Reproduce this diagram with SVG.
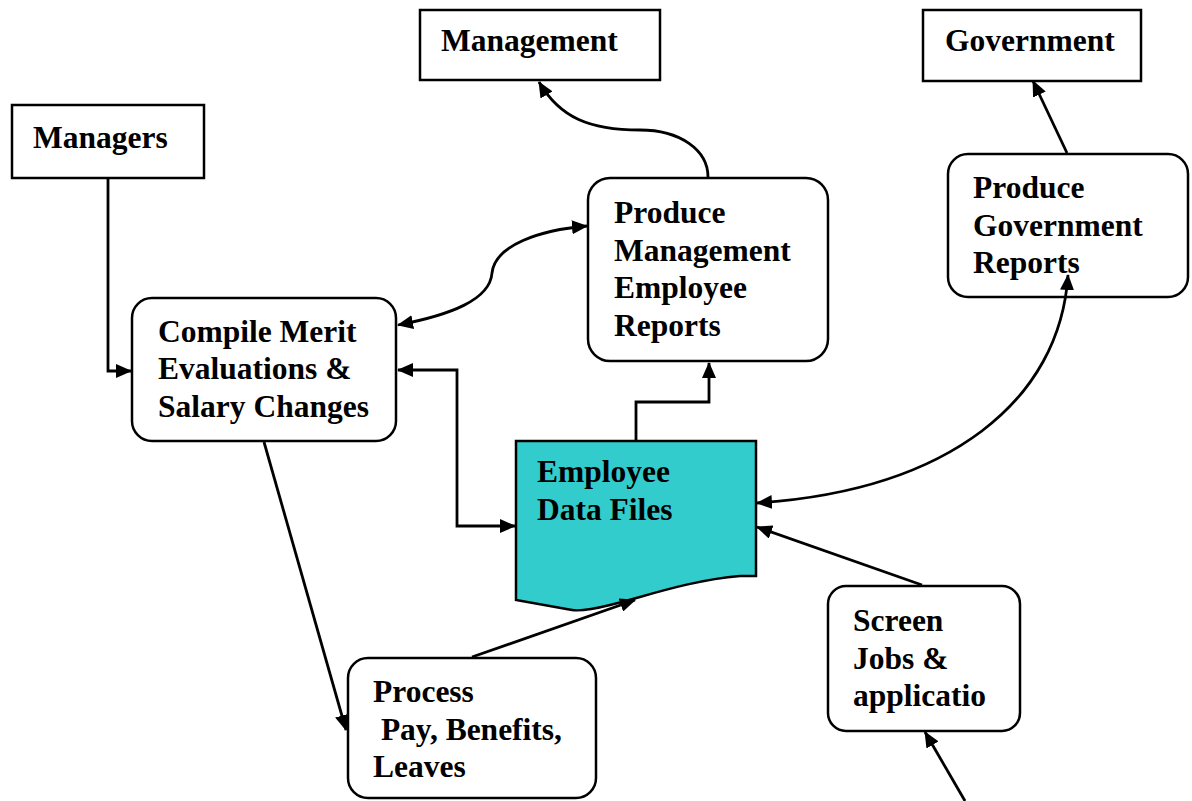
<svg xmlns="http://www.w3.org/2000/svg" width="1192" height="801" viewBox="0 0 1192 801">
<defs>
<style>
.box{fill:#fff;stroke:#000;stroke-width:2.5}
.doc{fill:#33cccc;stroke:#000;stroke-width:2.5}
.t{font-family:"Liberation Serif","Times New Roman",serif;font-weight:bold;font-size:31.5px;fill:#000}
.c{fill:none;stroke:#000;stroke-width:2.8}
</style>
<marker id="a" viewBox="0 0 16 14" refX="15" refY="7" markerWidth="16" markerHeight="14" markerUnits="userSpaceOnUse" orient="auto-start-reverse">
<path d="M0,0 L16,7 L0,14 Z" fill="#000"/>
</marker>
</defs>
<rect width="1192" height="801" fill="#fff"/>
<g id="managers">
<rect class="box" x="12" y="105" width="192" height="73"/>
<text class="t" x="33" y="148">Managers</text>
</g>
<g id="management">
<rect class="box" x="420" y="10" width="240" height="70"/>
<text class="t" x="441" y="51">Management</text>
</g>
<g id="government">
<rect class="box" x="923" y="10" width="218" height="71"/>
<text class="t" x="945" y="51">Government</text>
</g>
<g id="compile">
<rect class="box" x="132" y="298" width="264" height="143" rx="20"/>
<text class="t" x="158" y="342">Compile Merit</text>
<text class="t" x="158" y="379">Evaluations &amp;</text>
<text class="t" x="158" y="417">Salary Changes</text>
</g>
<g id="produce-management">
<rect class="box" x="588" y="178" width="240" height="183" rx="22"/>
<text class="t" x="614" y="223">Produce</text>
<text class="t" x="614" y="261">Management</text>
<text class="t" x="614" y="298">Employee</text>
<text class="t" x="614" y="336">Reports</text>
</g>
<g id="produce-government">
<rect class="box" x="948" y="154" width="240" height="143" rx="20"/>
<text class="t" x="973" y="198">Produce</text>
<text class="t" x="973" y="236">Government</text>
<text class="t" x="973" y="273">Reports</text>
</g>
<g id="employee-data-files">
<path class="doc" d="M516,441 H756 V576 L740,576 C690,580 640,598 610,605 C590,610 578,611 572,610 L516,600 Z"/>
<text class="t" x="537" y="482">Employee</text>
<text class="t" x="537" y="520">Data Files</text>
</g>
<g id="screen">
<rect class="box" x="828" y="586" width="192" height="145" rx="18"/>
<text class="t" x="853" y="631">Screen</text>
<text class="t" x="853" y="669">Jobs &amp;</text>
<text class="t" x="853" y="706">applicatio</text>
</g>
<g id="process">
<rect class="box" x="348" y="658" width="248" height="140" rx="20"/>
<text class="t" x="373" y="702">Process</text>
<text class="t" x="373" y="740" xml:space="preserve"> Pay, Benefits,</text>
<text class="t" x="373" y="777">Leaves</text>
</g>
<g id="connectors">
<path class="c" d="M108,179 V371 H131" marker-end="url(#a)"/>
<path class="c" d="M398,325 C450,315 490,300 492,273 C495,245 540,230 587,226" marker-start="url(#a)" marker-end="url(#a)"/>
<path class="c" d="M398,370 H457 V526 H515" marker-start="url(#a)" marker-end="url(#a)"/>
<path class="c" d="M636,440 V402 H709 V363" marker-end="url(#a)"/>
<path class="c" d="M708,177 C708,150 680,130 640,130 C590,130 560,118 539,82" marker-end="url(#a)"/>
<path class="c" d="M1067,153 L1033,81" marker-end="url(#a)"/>
<path class="c" d="M757,503 C950,490 1060,400 1068,275" marker-start="url(#a)" marker-end="url(#a)"/>
<path class="c" d="M922,585 L757,527" marker-end="url(#a)"/>
<path class="c" d="M472,657 L635,600" marker-end="url(#a)"/>
<path class="c" d="M264,442 L346,730" marker-end="url(#a)"/>
<path class="c" d="M965,801 L925,732" marker-end="url(#a)"/>
</g>
</svg>
